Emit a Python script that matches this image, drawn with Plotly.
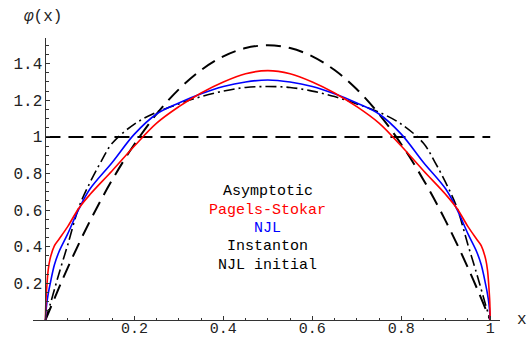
import plotly.graph_objects as go

# ---- data ----
x_asym = [0, 0.05, 0.1, 0.15, 0.2, 0.25, 0.3, 0.35, 0.4, 0.45, 0.5,
          0.55, 0.6, 0.65, 0.7, 0.75, 0.8, 0.85, 0.9, 0.95, 1]
y_asym = [0, 0.285, 0.54, 0.765, 0.96, 1.125, 1.26, 1.365, 1.44, 1.485, 1.5,
          1.485, 1.44, 1.365, 1.26, 1.125, 0.96, 0.765, 0.54, 0.285, 0]

x_fine = [0, 0.001, 0.003, 0.006, 0.01, 0.02, 0.03, 0.05, 0.075, 0.1, 0.15, 0.2,
          0.25, 0.3, 0.35, 0.4, 0.45, 0.5, 0.55, 0.6, 0.65, 0.7, 0.75, 0.8,
          0.85, 0.9, 0.925, 0.95, 0.97, 0.98, 0.99, 0.994, 0.997, 0.999, 1]
y_ps = [0, 0.10, 0.18, 0.27, 0.33, 0.405, 0.44, 0.51, 0.61, 0.685, 0.815, 0.95,
        1.075, 1.165, 1.24, 1.30, 1.345, 1.362, 1.345, 1.30, 1.24, 1.165, 1.075, 0.95,
        0.815, 0.685, 0.61, 0.51, 0.44, 0.405, 0.33, 0.27, 0.18, 0.10, 0]
y_njl = [0, 0.04, 0.09, 0.14, 0.19, 0.30, 0.37, 0.47, 0.605, 0.715, 0.86, 1.015,
         1.125, 1.185, 1.235, 1.275, 1.30, 1.311, 1.30, 1.275, 1.235, 1.185, 1.125, 1.015,
         0.86, 0.715, 0.605, 0.47, 0.37, 0.30, 0.19, 0.14, 0.09, 0.04, 0]

x_inst = [0, 0.01, 0.02, 0.03, 0.05, 0.075, 0.1, 0.125, 0.15, 0.2, 0.25, 0.3, 0.35,
          0.4, 0.45, 0.5, 0.55, 0.6, 0.65, 0.7, 0.75, 0.8, 0.85, 0.875, 0.9,
          0.925, 0.95, 0.97, 0.98, 0.99, 1]
y_inst = [0, 0.08, 0.165, 0.25, 0.41, 0.615, 0.75, 0.865, 0.965, 1.07, 1.135, 1.18, 1.22,
          1.25, 1.27, 1.275, 1.27, 1.25, 1.22, 1.18, 1.135, 1.07, 0.965, 0.865, 0.75,
          0.615, 0.41, 0.25, 0.165, 0.08, 0]

x_init = [0, 1]
y_init = [1, 1]

labels = ["Asymptotic", "Pagels-Stokar", "NJL", "Instanton", "NJL initial"]
label_colors = ["black", "#ff0000", "#0000ff", "black", "black"]
label_y = [0.7, 0.6, 0.5, 0.4, 0.3]

x_tickvals = [0.2, 0.4, 0.6, 0.8, 1.0]
x_ticktext = ["0.2", "0.4", "0.6", "0.8", "1"]
y_tickvals = [0.2, 0.4, 0.6, 0.8, 1.0, 1.2, 1.4]
y_ticktext = ["0.2", "0.4", "0.6", "0.8", "1", "1.2", "1.4"]

FONT = "Liberation Mono"
W, H = 528, 339
ML, MR, MT, MB = 33, 28, 38, 19

fig = go.Figure()
fig.add_trace(go.Scatter(x=x_init, y=y_init, mode="lines",
                         line=dict(color="black", width=2, dash="15px,8px")))
fig.add_trace(go.Scatter(x=x_asym, y=y_asym, mode="lines", line_shape="spline",
                         line=dict(color="black", width=2, dash="15px,8px")))
fig.add_trace(go.Scatter(x=x_inst, y=y_inst, mode="lines", line_shape="spline",
                         line=dict(color="black", width=1.6, dash="11px,4px,2px,4px")))
fig.add_trace(go.Scatter(x=x_fine, y=y_njl, mode="lines", line_shape="spline",
                         line=dict(color="#0000ff", width=1.6)))
fig.add_trace(go.Scatter(x=x_fine, y=y_ps, mode="lines", line_shape="spline",
                         line=dict(color="#ff0000", width=1.6)))

for t, c, yy in zip(labels, label_colors, label_y):
    fig.add_annotation(x=0.5, y=yy, xref="x", yref="y", text=t, showarrow=False,
                       font=dict(family=FONT, size=15, color=c))

pw = W - ML - MR
ph = H - MT - MB
fig.add_annotation(x=(522 - ML) / pw, y=0, xref="paper", yref="paper", text="x",
                   showarrow=False, xanchor="center", yanchor="middle",
                   font=dict(family=FONT, size=16, color="#222"))
fig.add_annotation(x=(43 - ML) / pw, y=(H - MB - 17) / ph, xref="paper", yref="paper",
                   showarrow=False, xanchor="center", yanchor="middle",
                   text="<i>φ</i>(x)", font=dict(family=FONT, size=16, color="#222"))

xr = [-0.028, 1.022]
fig.update_layout(
    width=W, height=H,
    margin=dict(l=ML, r=MR, t=MT, b=MB, autoexpand=False),
    paper_bgcolor="white", plot_bgcolor="white",
    showlegend=False,
    xaxis=dict(range=xr, showgrid=False, zeroline=False, showline=True,
               linecolor="#333", linewidth=1, automargin=False,
               tickmode="array", tickvals=x_tickvals, ticktext=x_ticktext,
               ticks="inside", ticklen=4, tickcolor="#333", ticklabelstandoff=-6,
               minor=dict(tickmode="linear", tick0=0, dtick=0.05, ticks="inside",
                          ticklen=2.5, tickcolor="#333"),
               tickfont=dict(family=FONT, size=15, color="#222")),
    yaxis=dict(range=[0, 1.54], showgrid=False, zeroline=False, showline=True,
               linecolor="#333", linewidth=1, anchor="free", automargin=False,
               position=(0 - xr[0]) / (xr[1] - xr[0]),
               tickmode="array", tickvals=y_tickvals, ticktext=y_ticktext,
               ticks="inside", ticklen=4, tickcolor="#333",
               minor=dict(tickmode="linear", tick0=0, dtick=0.05, ticks="inside",
                          ticklen=2.5, tickcolor="#333"),
               tickfont=dict(family=FONT, size=16, color="#222")),
)
fig.write_html("out.html")
